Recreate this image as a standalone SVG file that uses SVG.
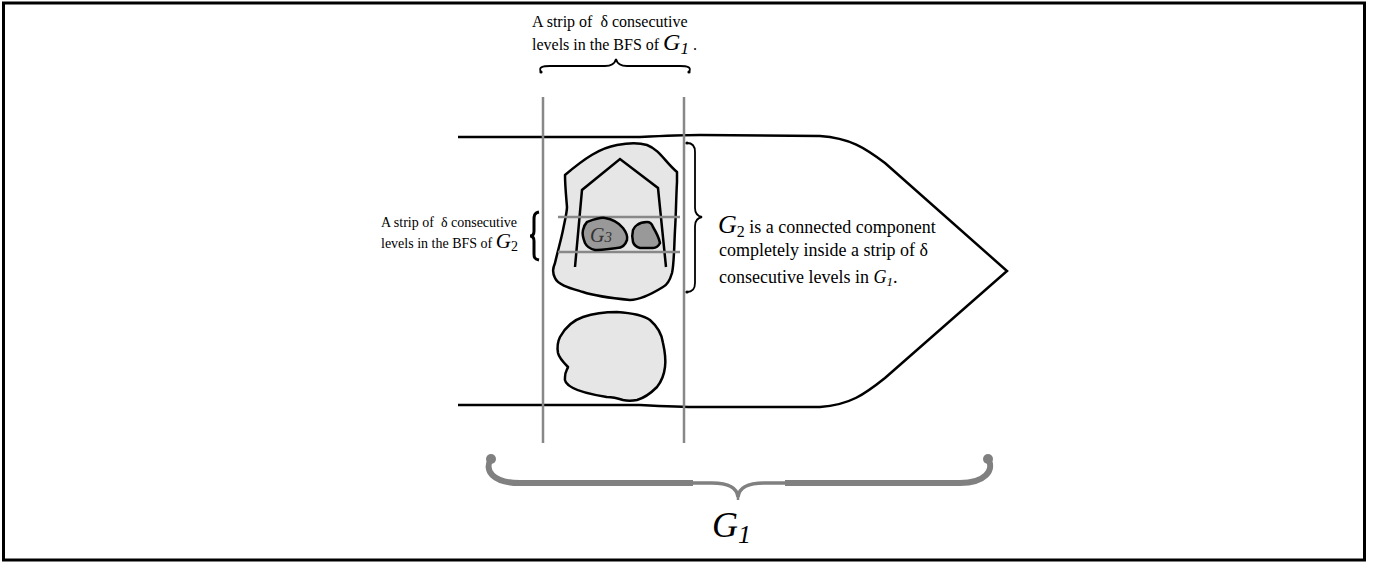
<svg xmlns="http://www.w3.org/2000/svg" width="1380" height="563" viewBox="0 0 1380 563">
<style>
text{font-family:"Liberation Serif","Times New Roman",serif;fill:#000;white-space:pre}
.it{font-style:italic}
.blob{fill:#e6e6e6;stroke:#000;stroke-width:2.5;stroke-linejoin:round}
.dark{fill:#999;stroke:#000;stroke-width:2.5;stroke-linejoin:round}
.ln{fill:none;stroke:#000;stroke-width:2.5}
.grid{stroke:#888;stroke-width:2.5;fill:none}
</style>
<rect x="3.5" y="3" width="1361" height="557" fill="#fff" stroke="#000" stroke-width="3"/>

<g id="g1-outline">
<path class="ln" d="M458,137 L640,137 C660,136 680,135 700,135 L820,136 C850,138 865,148 885,163 L1007,271 L885,378 C865,394 850,405 820,407 L700,407 C680,407 660,406 640,405 L458,405"/>
</g>

<g id="g2-component">
<path class="blob" d="M565,175 C585,158 600,148 617,145 C628,143 640,143 647,145 C660,150 665,162 677,172 L677,182 C676,200 676,215 675,230 C674,250 674,265 672,273 C670,280 667,285 663,287 C650,295 640,300 630,300 C610,298 595,296 583,292 C570,288 558,285 555,278 C552,272 553,268 555,263 C558,250 561,240 563,230 C565,220 567,212 567,207 C566,195 565,185 565,175 Z"/>
<path class="ln" d="M575,267 L582,190 L620,159 L658,188 L666,267"/>
</g>

<g id="strip-lines">
<line class="grid" x1="543" y1="97" x2="543" y2="443"/>
<line class="grid" x1="684" y1="97" x2="684" y2="443"/>
<line class="grid" x1="558" y1="217" x2="680" y2="217"/>
<line class="grid" x1="558" y1="252" x2="680" y2="252"/>
</g>

<g id="g3">
<path class="dark" d="M587,222 C595,219 600,217 605,218 C612,219 618,222 623,228 C626,232 628,236 627,240 C625,246 621,248 617,248 C608,249 600,250 595,250 C590,249 587,247 585,243 C583,238 582,234 583,230 C584,226 585,224 587,222 Z"/>
<text class="it" x="590" y="242" font-size="20" style="fill:#333">G<tspan font-size="15">3</tspan></text>
</g>

<g id="g3-neighbour">
<path class="dark" d="M637,225 C641,222 644,222 647,222 C650,222 652,224 653,227 C656,232 659,238 660,243 C658,247 655,248 653,248 L640,248 C636,247 634,245 633,242 C632,238 632,234 633,230 C634,228 635,226 637,225 Z"/>
</g>

<g id="lower-component">
<path class="blob" d="M560,337 C566,326 574,320 583,317 C595,313 606,312 617,312 C632,313 643,315 650,320 C658,327 662,335 663,343 C665,352 666,360 665,367 C664,376 661,382 657,387 C651,393 644,398 637,400 C632,401 627,401 623,400 C617,398 612,397 607,397 C595,395 582,393 573,388 C567,385 564,381 565,377 C565,372 567,370 568,367 C564,363 559,358 558,353 C557,347 558,341 560,337 Z"/>
</g>

<g id="connectors">
<path class="ln" style="stroke-width:1.8" d="M541,72 C538,67 543,66 550,66 L605,66 C612,66 615,63 616,59 C617,63 620,66 627,66 L680,66 C687,66 692,67 689,72"/>
<circle cx="541" cy="72" r="1.6"/>
<circle cx="689" cy="72" r="1.6"/>
<path class="ln" style="stroke-width:3" d="M539,212 C534,213 534,216 534,220 L534,231 C534,234 533,236 530,236 C533,236 534,238 534,241 L534,253 C534,257 534,259 539,260"/>
<path class="ln" style="stroke-width:1.8" d="M687,143 C693,143 695,146 695,152 L695,208 C695,213 697,216 702,217 C697,218 695,221 695,226 L695,283 C695,289 693,292 687,292"/>
<circle cx="687" cy="143" r="1.6"/>
<circle cx="687" cy="292" r="1.6"/>
<path fill="none" stroke="#808080" stroke-width="6" d="M491,459 C484,470 492,483 520,483 L693,483"/>
<path fill="none" stroke="#808080" stroke-width="6" d="M785,483 L960,483 C985,483 995,470 988,459"/>
<path fill="none" stroke="#808080" stroke-width="3.5" d="M692,483 L712,483 C728,483 737,488 738,497 C739,488 748,483 764,483 L786,483"/>
<path fill="none" stroke="#808080" stroke-width="2.5" d="M738,495 L738,500"/>
<circle cx="491" cy="459" r="5" fill="#808080"/>
<circle cx="988" cy="459" r="5" fill="#808080"/>
</g>

<g id="label-top">
<text x="532" y="27" font-size="16">A strip of  δ consecutive</text>
<text x="532" y="50" font-size="16">levels in the BFS of <tspan class="it" font-size="24">G</tspan><tspan class="it" font-size="17" dy="4">1</tspan><tspan dy="-4"> .</tspan></text>
</g>

<g id="label-left">
<text x="381" y="227" font-size="14">A strip of  δ consecutive</text>
<text x="381" y="248" font-size="14">levels in the BFS of <tspan class="it" font-size="21">G</tspan><tspan font-size="14" dy="3">2</tspan></text>
</g>

<g id="label-right">
<text x="718" y="233" font-size="18"><tspan class="it" font-size="26">G</tspan><tspan font-size="16" dy="4">2</tspan><tspan dy="-4"> is a connected component</tspan></text>
<text x="719" y="256" font-size="18">completely inside a strip of δ</text>
<text x="719" y="283" font-size="18">consecutive levels in <tspan class="it">G</tspan><tspan class="it" font-size="13" dy="3">1</tspan><tspan dy="-3">.</tspan></text>
</g>

<g id="label-g1">
<text x="712" y="537" font-size="36" class="it">G<tspan font-size="26" dy="6">1</tspan></text>
</g>
</svg>
